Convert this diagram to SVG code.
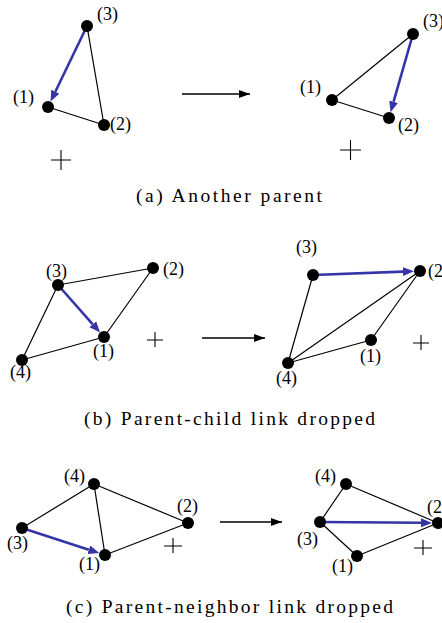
<svg xmlns="http://www.w3.org/2000/svg" width="442" height="623" viewBox="0 0 442 623">
<style>
.e{stroke:#000;stroke-width:1.2;fill:none}
.b{stroke:#3535a8;stroke-width:2.6;fill:none;marker-end:url(#bh)}
.k{stroke:#000;stroke-width:1.3;fill:none;marker-end:url(#kh)}
.p{stroke:#000;stroke-width:1.1;fill:none}
.n{fill:#000}
.l{font-family:"Liberation Serif","Times New Roman",serif;font-size:18px;fill:#000}
.c{font-family:"Liberation Serif","Times New Roman",serif;font-size:19.5px;fill:#000}
</style>
<defs>
<marker id="bh" markerUnits="userSpaceOnUse" markerWidth="12" markerHeight="10" refX="0" refY="4.5" orient="auto"><path d="M0,0 L11,4.5 L0,9 z" fill="#3535a8"/></marker>
<marker id="kh" markerUnits="userSpaceOnUse" markerWidth="12" markerHeight="10" refX="11" refY="4" orient="auto"><path d="M0,0 L11,4 L0,8 z" fill="#000"/></marker>
</defs>
<rect width="442" height="623" fill="#fff"/>
<g id="connectors">
<line class="e" x1="87" y1="26" x2="104" y2="125"/>
<line class="e" x1="48" y1="107" x2="104" y2="125"/>
<line class="b" x1="87" y1="26" x2="55.3" y2="91.7"/>
<line class="e" x1="413" y1="34" x2="332" y2="100"/>
<line class="e" x1="332" y1="100" x2="389" y2="118"/>
<line class="b" x1="413" y1="34" x2="393.6" y2="101.7"/>
<line class="k" x1="182" y1="94" x2="250" y2="94"/>
<line class="e" x1="58" y1="285" x2="153" y2="268"/>
<line class="e" x1="153" y1="268" x2="104" y2="337"/>
<line class="e" x1="58" y1="285" x2="22" y2="360"/>
<line class="e" x1="22" y1="360" x2="104" y2="337"/>
<line class="b" x1="58" y1="285" x2="92.8" y2="324.3"/>
<line class="e" x1="313" y1="275" x2="288" y2="363"/>
<line class="e" x1="288" y1="363" x2="420" y2="271"/>
<line class="e" x1="288" y1="363" x2="371" y2="340"/>
<line class="e" x1="371" y1="340" x2="420" y2="271"/>
<line class="b" x1="313" y1="275" x2="403" y2="271.6"/>
<line class="k" x1="202" y1="338" x2="265" y2="338"/>
<line class="e" x1="22" y1="528" x2="94" y2="484"/>
<line class="e" x1="94" y1="484" x2="105" y2="555"/>
<line class="e" x1="94" y1="484" x2="188" y2="523"/>
<line class="e" x1="105" y1="555" x2="188" y2="523"/>
<line class="b" x1="22" y1="528" x2="88.8" y2="549.7"/>
<line class="e" x1="346" y1="484" x2="320" y2="522"/>
<line class="e" x1="346" y1="484" x2="438" y2="523"/>
<line class="e" x1="320" y1="522" x2="357" y2="556"/>
<line class="e" x1="357" y1="556" x2="438" y2="523"/>
<line class="b" x1="320" y1="522" x2="421" y2="522.8"/>
<line class="k" x1="220" y1="522" x2="282" y2="522"/>
</g>
<g id="a-left">
<g id="a1-n3"><circle class="n" cx="87" cy="26" r="6"/><text class="l" x="97" y="20">(3)</text></g>
<g id="a1-n1"><circle class="n" cx="48" cy="107" r="6"/><text class="l" x="13" y="103">(1)</text></g>
<g id="a1-n2"><circle class="n" cx="104" cy="125" r="6"/><text class="l" x="110" y="130">(2)</text></g>
<path class="p" d="M51,160 H71 M61,150 V170"/>
</g>
<g id="a-right">
<g id="a2-n3"><circle class="n" cx="413" cy="34" r="6"/><text class="l" x="423" y="27">(3)</text></g>
<g id="a2-n1"><circle class="n" cx="332" cy="100" r="6"/><text class="l" x="300" y="93">(1)</text></g>
<g id="a2-n2"><circle class="n" cx="389" cy="118" r="6"/><text class="l" x="398" y="131">(2)</text></g>
<path class="p" d="M340,150 H361 M350.5,140 V160"/>
</g>
<text class="c" x="136" y="202" textLength="186" lengthAdjust="spacing">(a) Another parent</text>
<g id="b-left">
<g id="b1-n3"><circle class="n" cx="58" cy="285" r="6"/><text class="l" x="46" y="277">(3)</text></g>
<g id="b1-n2"><circle class="n" cx="153" cy="268" r="6"/><text class="l" x="163" y="275">(2)</text></g>
<g id="b1-n1"><circle class="n" cx="104" cy="337" r="6"/><text class="l" x="93" y="357">(1)</text></g>
<g id="b1-n4"><circle class="n" cx="22" cy="360" r="6"/><text class="l" x="10" y="378">(4)</text></g>
<path class="p" d="M147,340 H163 M155,332 V347"/>
</g>
<g id="b-right">
<g id="b2-n3"><circle class="n" cx="313" cy="275" r="6"/><text class="l" x="296" y="253">(3)</text></g>
<g id="b2-n2"><circle class="n" cx="420" cy="271" r="6"/><text class="l" x="428" y="277">(2)</text></g>
<g id="b2-n1"><circle class="n" cx="371" cy="340" r="6"/><text class="l" x="360" y="362">(1)</text></g>
<g id="b2-n4"><circle class="n" cx="288" cy="363" r="6"/><text class="l" x="276" y="384">(4)</text></g>
<path class="p" d="M413,343 H429 M421,335 V350"/>
</g>
<text class="c" x="84" y="425" textLength="291" lengthAdjust="spacing">(b) Parent-child link dropped</text>
<g id="c-left">
<g id="c1-n4"><circle class="n" cx="94" cy="484" r="6"/><text class="l" x="64" y="482">(4)</text></g>
<g id="c1-n2"><circle class="n" cx="188" cy="523" r="6"/><text class="l" x="177" y="512">(2)</text></g>
<g id="c1-n3"><circle class="n" cx="22" cy="528" r="6"/><text class="l" x="7" y="549">(3)</text></g>
<g id="c1-n1"><circle class="n" cx="105" cy="555" r="6"/><text class="l" x="79" y="570">(1)</text></g>
<path class="p" d="M164,546 H182 M173,538 V553"/>
</g>
<g id="c-right">
<g id="c2-n4"><circle class="n" cx="346" cy="484" r="6"/><text class="l" x="315" y="482">(4)</text></g>
<g id="c2-n2"><circle class="n" cx="438" cy="523" r="6"/><text class="l" x="427" y="513">(2)</text></g>
<g id="c2-n3"><circle class="n" cx="320" cy="522" r="6"/><text class="l" x="297" y="545">(3)</text></g>
<g id="c2-n1"><circle class="n" cx="357" cy="556" r="6"/><text class="l" x="332" y="572">(1)</text></g>
<path class="p" d="M414,548 H432 M423,540 V555"/>
</g>
<text class="c" x="66" y="613" textLength="327" lengthAdjust="spacing">(c) Parent-neighbor link dropped</text>
</svg>
